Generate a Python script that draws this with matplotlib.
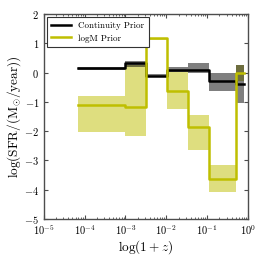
import numpy as np
import matplotlib
matplotlib.use("Agg")
import matplotlib.pyplot as plt

plt.rcParams['mathtext.fontset'] = 'cm'
plt.rcParams['font.family'] = 'serif'
plt.rcParams['font.serif'] = ['cmr10', 'DejaVu Serif']
plt.rcParams['axes.formatter.use_mathtext'] = True
plt.rcParams['axes.unicode_minus'] = True

# bin edges in log(1+z)
edges = [6.8e-5, 9.7e-4, 3.2e-3, 1.02e-2, 3.4e-2, 1.1e-1, 0.51, 0.79]

# Continuity prior
cont_med = [0.15, 0.32, -0.10, 0.10, 0.10, -0.27, -0.40]
cont_lo  = [0.10, 0.20, -0.15, 0.02, 0.00, -0.62, -1.03]
cont_hi  = [0.20, 0.41, -0.05, 0.18, 0.34, 0.00, 0.26]

# logM prior
logm_med = [-1.10, -1.16, 1.17, -0.63, -1.85, -3.65, 0.00]
logm_lo  = [-2.03, -2.17, 1.11, -1.26, -2.63, -4.08, -0.28]
logm_hi  = [-0.79, 0.26, 1.20, 0.03, -1.45, -3.17, 0.26]

def ext(v):
    return list(v) + [v[-1]]

fig = plt.figure(figsize=(2.66, 2.66), dpi=100)
ax = fig.add_axes([0.165, 0.177, 0.767, 0.77])

ax.fill_between(edges, ext(logm_lo), ext(logm_hi), step='post', color='y', alpha=0.5, lw=0)
ax.fill_between(edges, ext(cont_lo), ext(cont_hi), step='post', color='k', alpha=0.5, lw=0)
ax.step(edges, ext(cont_med), where='post', color='k', lw=1.8, label='Continuity Prior')
ax.step(edges, ext(logm_med), where='post', color='y', lw=1.8, label='logM Prior')

ax.set_xscale('log')
ax.set_xlim(1e-5, 1)
ax.set_ylim(-5, 2)
ax.set_yticks([-5, -4, -3, -2, -1, 0, 1, 2])
for s in ax.spines.values():
    s.set_color('0.3')
    s.set_linewidth(1.0)
ax.tick_params(which='both', direction='in', top=True, right=True, labelsize=7.5,
               color='0.3')
ax.tick_params(axis='y', which='both', pad=3.5)
ax.tick_params(axis='x', which='both', pad=3.5)
ax.tick_params(which='major', length=3)
ax.tick_params(which='minor', length=1.5)
ax.set_xlabel(r'$\log(1+z)$', fontsize=9.5, labelpad=0.5)
ax.set_ylabel(r'$\log(\mathrm{SFR}/(\mathrm{M}_{\odot}/\mathrm{year}))$', fontsize=9.5, labelpad=0.5)

leg = ax.legend(loc='upper left', fontsize=6.5, frameon=True, fancybox=False,
                handlelength=2.2, borderpad=0.5, labelspacing=0.5,
                borderaxespad=0.3, framealpha=1)
leg.get_frame().set_edgecolor('0.2')
leg.get_frame().set_linewidth(0.8)

fig.savefig('out.png', dpi=100)
